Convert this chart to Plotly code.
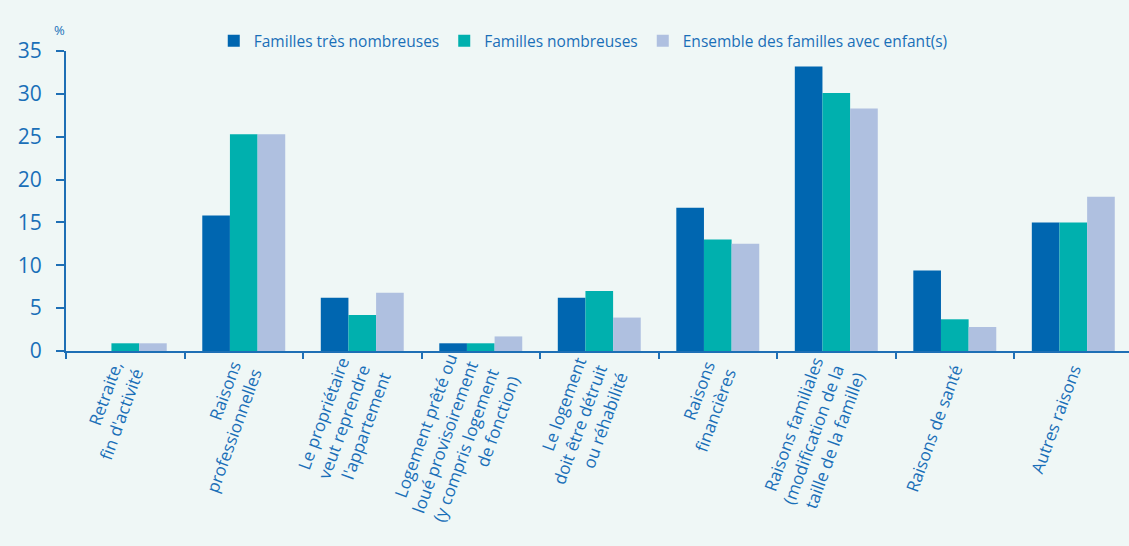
import plotly.graph_objects as go

categories = [
    "Retraite,<br>fin d'activité",
    "Raisons<br>professionnelles",
    "Le propriétaire<br>veut reprendre<br>l'appartement",
    "Logement prêté ou<br>loué provisoirement<br>(y compris logement<br>de fonction)",
    "Le logement<br>doit être détruit<br>ou réhabilité",
    "Raisons<br>financières",
    "Raisons familiales<br>(modification de la<br>taille de la famille)",
    "Raisons de santé",
    "Autres raisons",
]
tres_nombreuses = [0, 15.8, 6.2, 0.9, 6.2, 16.7, 33.2, 9.4, 15.0]
nombreuses = [0.9, 25.3, 4.2, 0.9, 7.0, 13.0, 30.1, 3.7, 15.0]
ensemble = [0.9, 25.3, 6.8, 1.7, 3.9, 12.5, 28.3, 2.8, 18.0]

series_names = ["Familles très nombreuses", "Familles nombreuses", "Ensemble des familles avec enfant(s)"]
colors = ["#0066B0", "#00B0AE", "#AFC0E0"]
text_color = "#1A6FB8"
font_family = "'Open Sans', Lato, sans-serif"

fig = go.Figure()
for name, vals, col in zip(series_names, [tres_nombreuses, nombreuses, ensemble], colors):
    fig.add_trace(go.Bar(x=categories, y=vals, name=name, marker=dict(color=col, line=dict(width=0))))

fig.update_layout(
    width=1129, height=546,
    paper_bgcolor="#EFF7F6", plot_bgcolor="#EFF7F6",
    barmode="group", bargap=0.3, bargroupgap=0,
    margin=dict(l=66, r=0, t=51, b=195, autoexpand=False),
    font=dict(family=font_family, color=text_color),
    legend=dict(orientation="h", x=0.139, xanchor="left", y=1.033, yanchor="middle",
                font=dict(size=15.5, color=text_color), bgcolor="rgba(0,0,0,0)",
                itemwidth=30, traceorder="normal"),
    showlegend=True,
)
fig.update_xaxes(
    range=[-0.5, 8.47], showline=True, linecolor="#1E6FB5", linewidth=2,
    ticks="outside", tickson="boundaries", ticklen=6, tickcolor="#1E6FB5", tickwidth=1.5,
    tickangle=-70, tickfont=dict(size=17, color=text_color, family=font_family),
    showgrid=False, zeroline=False,
)
fig.update_yaxes(
    range=[0, 35], tickvals=[0, 5, 10, 15, 20, 25, 30, 35], showline=True, linecolor="#1E6FB5",
    linewidth=2, ticks="outside", ticklen=8, tickcolor="#1E6FB5", tickwidth=1.5,
    ticklabelstandoff=10,
    tickfont=dict(size=21, color=text_color, family=font_family),
    showgrid=False, zeroline=False,
)
fig.add_annotation(text="%", x=-0.006, y=1.07, xref="paper", yref="paper", showarrow=False,
                   xanchor="center", yanchor="middle",
                   font=dict(size=13, color=text_color, family=font_family))
fig.write_html("out.html")
